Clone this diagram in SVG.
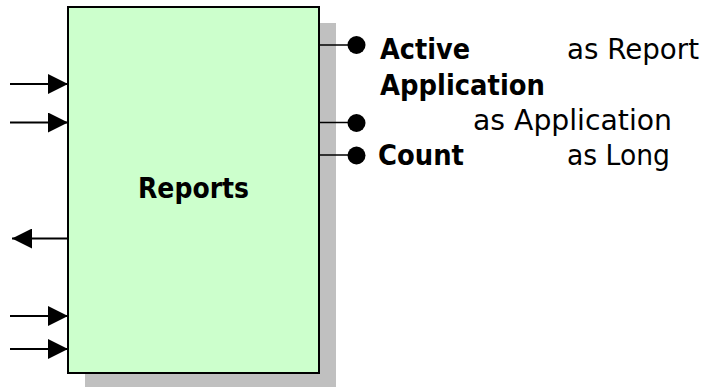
<svg xmlns="http://www.w3.org/2000/svg" width="715" height="387" viewBox="0 0 715 387">
  <style>
    text { font-family: "DejaVu Sans", "Liberation Sans", sans-serif; fill: #000; font-size: 29px; }
    .b { font-weight: bold; }
    .wire { stroke: #000; stroke-width: 2; fill: none; }
    .pin { stroke: #000; stroke-width: 1.5; fill: none; }
  </style>
  <defs>
    <marker id="arrow" viewBox="0 0 20 20" refX="20" refY="10" markerWidth="20" markerHeight="20" markerUnits="userSpaceOnUse" orient="auto">
      <path d="M0,0 L20,10 L0,20 Z" fill="#000"/>
    </marker>
  </defs>

  <g id="reports">
    <rect x="85" y="23" width="251" height="366" fill="#c0c0c0"/>
    <rect x="68" y="7" width="251" height="366" fill="#ccffcc" stroke="#000" stroke-width="2"/>
    <text class="b" x="138" y="198" font-size="29" textLength="111" lengthAdjust="spacingAndGlyphs">Reports</text>
  </g>

  <g id="connectors">
    <line class="wire" x1="10" y1="84" x2="68" y2="84" marker-end="url(#arrow)"/>
    <line class="wire" x1="10" y1="122.5" x2="68" y2="122.5" marker-end="url(#arrow)"/>
    <line class="wire" x1="68" y1="238.5" x2="12" y2="238.5" marker-end="url(#arrow)"/>
    <line class="wire" x1="10" y1="316" x2="68" y2="316" marker-end="url(#arrow)"/>
    <line class="wire" x1="10" y1="349" x2="68" y2="349" marker-end="url(#arrow)"/>

    <line class="pin" x1="319" y1="45" x2="350" y2="45"/>
    <circle cx="356.5" cy="45" r="9" fill="#000"/>
    <line class="pin" x1="319" y1="122.5" x2="350" y2="122.5"/>
    <circle cx="356.5" cy="123" r="9" fill="#000"/>
    <line class="pin" x1="319" y1="155" x2="350" y2="155"/>
    <circle cx="356.5" cy="155.5" r="9" fill="#000"/>
  </g>

  <g id="outputs">
    <text class="b" x="380" y="59" textLength="90" lengthAdjust="spacingAndGlyphs">Active</text>
    <text x="567" y="59" textLength="132" lengthAdjust="spacingAndGlyphs">as Report</text>
    <text class="b" x="380" y="95" textLength="165" lengthAdjust="spacingAndGlyphs">Application</text>
    <text x="473" y="130" textLength="199" lengthAdjust="spacingAndGlyphs">as Application</text>
    <text class="b" x="378" y="165" textLength="86" lengthAdjust="spacingAndGlyphs">Count</text>
    <text x="567" y="165" textLength="103" lengthAdjust="spacingAndGlyphs">as Long</text>
  </g>
</svg>
